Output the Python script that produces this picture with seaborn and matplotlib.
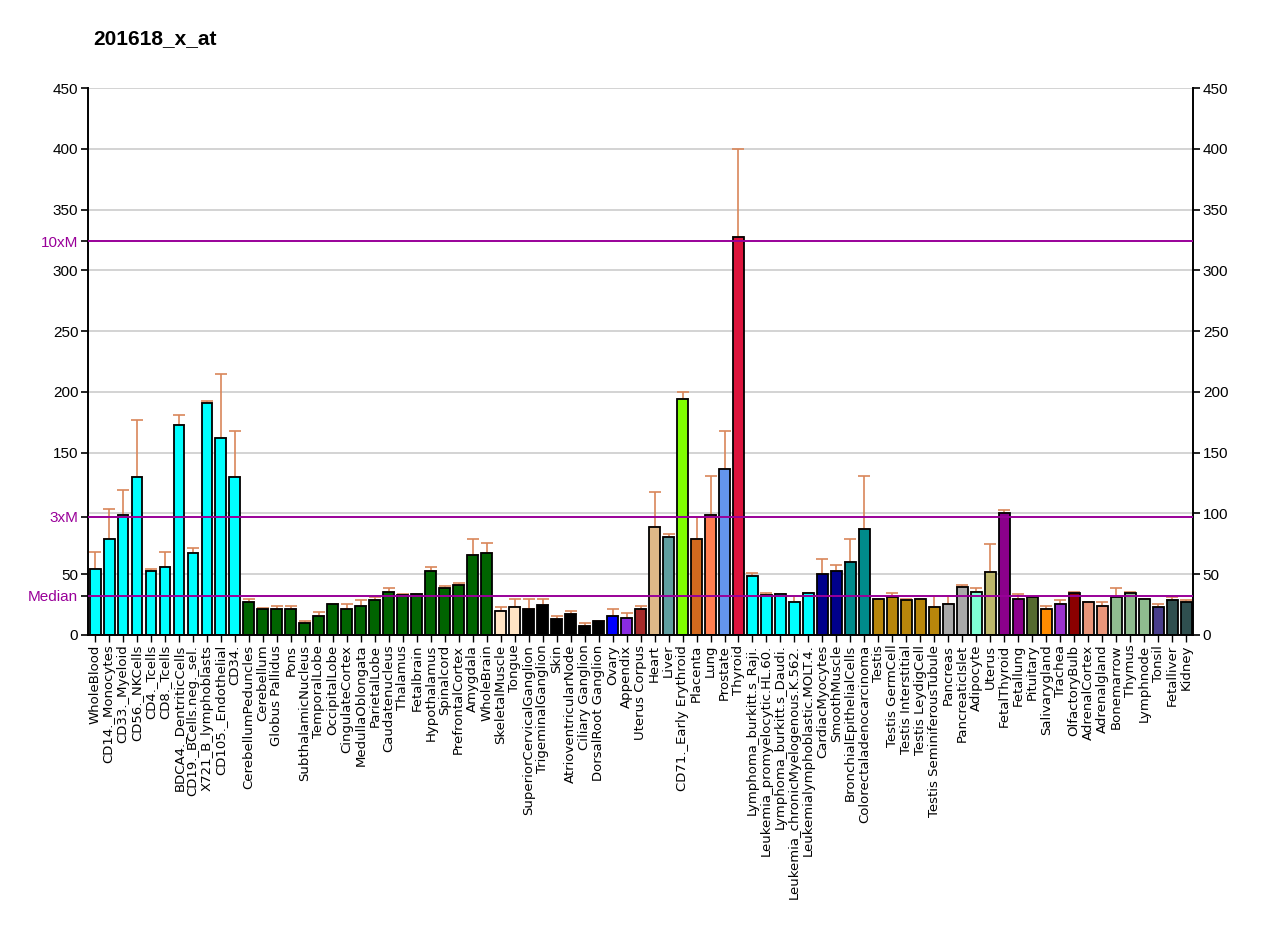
import matplotlib
matplotlib.use("Agg")
import matplotlib.pyplot as plt
import seaborn as sns
import numpy as np

# tissue labels as shown on the x axis
tissues = ["WholeBlood", "CD14._Monocytes", "CD33._Myeloid", "CD56._NKCells", "CD4._Tcells",
           "CD8._Tcells", "BDCA4._DentriticCells", "CD19._BCells.neg._sel.", "X721_B_lymphoblasts",
           "CD105._Endothelial", "CD34.", "CerebellumPeduncles", "Cerebellum", "Globus Pallidus",
           "Pons", "SubthalamicNucleus", "TemporalLobe", "OccipitalLobe", "CingulateCortex",
           "MedullaOblongata", "ParietalLobe", "Caudatenucleus", "Thalamus", "Fetalbrain",
           "Hypothalamus", "Spinalcord", "PrefrontalCortex", "Amygdala", "WholeBrain",
           "SkeletalMuscle", "Tongue", "SuperiorCervicalGanglion", "TrigeminalGanglion", "Skin",
           "AtrioventricularNode", "Ciliary Ganglion", "DorsalRoot Ganglion", "Ovary", "Appendix",
           "Uterus Corpus", "Heart", "Liver", "CD71._Early Erythroid", "Placenta", "Lung",
           "Prostate", "Thyroid", "Lymphoma_burkitt.s_Raji.", "Leukemia_promyelocytic.HL.60.",
           "Lymphoma_burkitt.s_Daudi.", "Leukemia_chronicMyelogenous.K.562.",
           "Leukemialymphoblastic.MOLT.4.", "CardiacMyocytes", "SmoothMuscle",
           "BronchialEpithelialCells", "Colorectaladenocarcinoma", "Testis", "Testis GermCell",
           "Testis Interstitial", "Testis LeydigCell", "Testis SeminiferousTubule", "Pancreas",
           "PancreaticIslet", "Adipocyte", "Uterus", "FetalThyroid", "Fetallung", "Pituitary",
           "Salivarygland", "Trachea", "OlfactoryBulb", "AdrenalCortex", "Adrenalgland",
           "Bonemarrow", "Thymus", "Lymphnode", "Tonsil", "Fetalliver", "Kidney"]

# mean expression
values = [54, 78.7, 98.7, 130.2, 52.9, 55.7, 172.5, 67.2, 191.1, 162.3, 130.2,
          27.1, 21.7, 21.4, 21.4, 9.6, 15.6, 25.2, 21.4, 24.1, 28.6, 35.4, 32.6, 34,
          52.9, 38.7, 41.4, 65.8, 67.5,
          19.7, 22.7, 21.7, 24.4, 12.9, 17.3, 7.1, 11.2, 15.6, 14, 21.4,
          89, 80.4, 193.9, 78.7, 99, 136.3, 327.7,
          48.5, 32.9, 34, 27.1, 34.3, 50.2, 52.9, 60.1, 87.2,
          29.6, 31.5, 28.5, 29.6, 22.7, 25.5, 39.7, 35.4, 51.6, 100.1, 29.9, 31.5,
          21.1, 25.5, 34.3, 26.9, 24.1, 31.5, 34.3, 29.9, 22.7, 28.5, 27.1]

# top of error bar
err_top = [68.5, 103.4, 119.3, 176.6, 54, 68.5, 181, 71.6, 192.5, 214.7, 167.8,
           29.9, 22.2, 24.1, 24.1, 11.8, 18.6, 25.2, 25.5, 28.5, 31.5, 38.4, 33.8, 34,
           55.9, 40, 43, 79, 75.9,
           22.7, 29.9, 29.9, 29.9, 15.6, 20, 9.9, 11.2, 21.7, 18.4, 24.1,
           117.6, 83.1, 199.6, 96.8, 130.8, 168.1, 399.5,
           51.3, 34.3, 34, 32, 34.3, 62.8, 57.3, 78.7, 130.5,
           29.6, 34.3, 29.6, 29.6, 32, 32, 41.4, 38.7, 74.6, 103.1, 34, 31.5,
           23.9, 28.5, 35.6, 26.9, 26.9, 38.4, 35.2, 29.9, 25.5, 31.3, 28.5]

colors = (["#00FFFF"] * 11 + ["#006400"] * 18 + ["#FFE4C4"] * 2 + ["#000000"] * 6 +
          ["#0000FF", "#8A2BE2", "#A52A2A", "#DEB887", "#5F9EA0", "#7FFF00", "#D2691E",
           "#FF7F50", "#6495ED", "#DC143C"] + ["#00FFFF"] * 5 + ["#00008B"] * 2 +
          ["#008B8B"] * 2 + ["#B8860B"] * 5 + ["#A9A9A9"] * 2 +
          ["#7FFFD4", "#BDB76B", "#8B008B", "#8B008B", "#556B2F", "#FF8C00", "#9932CC",
           "#8B0000", "#E9967A", "#E9967A"] + ["#8FBC8F"] * 3 + ["#483D8B"] +
          ["#2F4F4F"] * 2)

median = 32.4
title = "201618_x_at"

sns.set_style("white")
plt.rcParams["font.family"] = ["Liberation Sans", "DejaVu Sans"]
plt.rcParams["text.color"] = "black"
plt.rcParams["xtick.color"] = "black"
plt.rcParams["ytick.color"] = "black"

fig = plt.figure(figsize=(12.8, 9.27), dpi=100)
ax = fig.add_axes([0.0688, 0.315, 0.8633, 0.590])

for yv in range(50, 451, 50):
    ax.axhline(yv, color="#cccccc", lw=1.2, zorder=0)

sns.barplot(x=tissues, y=values, hue=tissues, palette=colors, legend=False, saturation=1,
            edgecolor="black", linewidth=1.3, width=0.78, ax=ax, zorder=2)

pos = np.arange(len(tissues))
up = np.array(err_top) - np.array(values)
ax.errorbar(pos, values, yerr=[np.zeros(len(up)), up], fmt="none",
            ecolor="#D9865A", elinewidth=1.2, capsize=4, capthick=1.2, zorder=1)

mcol = "#990099"
for mult in [1, 3, 10]:
    ax.axhline(median * mult, color=mcol, lw=1.4, zorder=3)

ax.set_ylim(0, 450)
ax.set_xlim(-0.5, len(tissues) - 0.5)

# left axis: numbers without 100, plus the median markers
left_ticks = [0, 50, 150, 200, 250, 300, 350, 400, 450, median, median * 3, median * 10]
left_labels = ["0", "50", "150", "200", "250", "300", "350", "400", "450",
               "Median", "3xM", "10xM"]
ax.set_yticks(left_ticks)
ax.set_yticklabels(left_labels)
for t in ax.get_yticklabels()[-3:]:
    t.set_color(mcol)
ax.tick_params(axis="y", left=True, length=5, width=1.2, labelsize=11, direction="out", pad=2)

ax2 = ax.twinx()
ax2.set_ylim(0, 450)
ax2.set_yticks(range(0, 451, 50))
ax2.tick_params(axis="y", right=True, length=5, width=1.2, labelsize=11, direction="out", pad=2)
for s in ax2.spines.values():
    s.set_visible(False)

ax.tick_params(axis="x", bottom=True, length=5, width=1, pad=2)
ax.set_xticks(pos)
ax.set_xticklabels(tissues, rotation=90, fontsize=9.5, family="DejaVu Sans")
ax.set_xlabel("")
ax.set_ylabel("")

for s in ["left", "right", "bottom"]:
    ax.spines[s].set_visible(True)
    ax.spines[s].set_color("black")
    ax.spines[s].set_linewidth(1.4)
ax.spines["top"].set_visible(False)

fig.text(0.073, 0.958, title, fontsize=15, fontweight="bold", ha="left", va="center")

fig.savefig("out.png", dpi=100)
